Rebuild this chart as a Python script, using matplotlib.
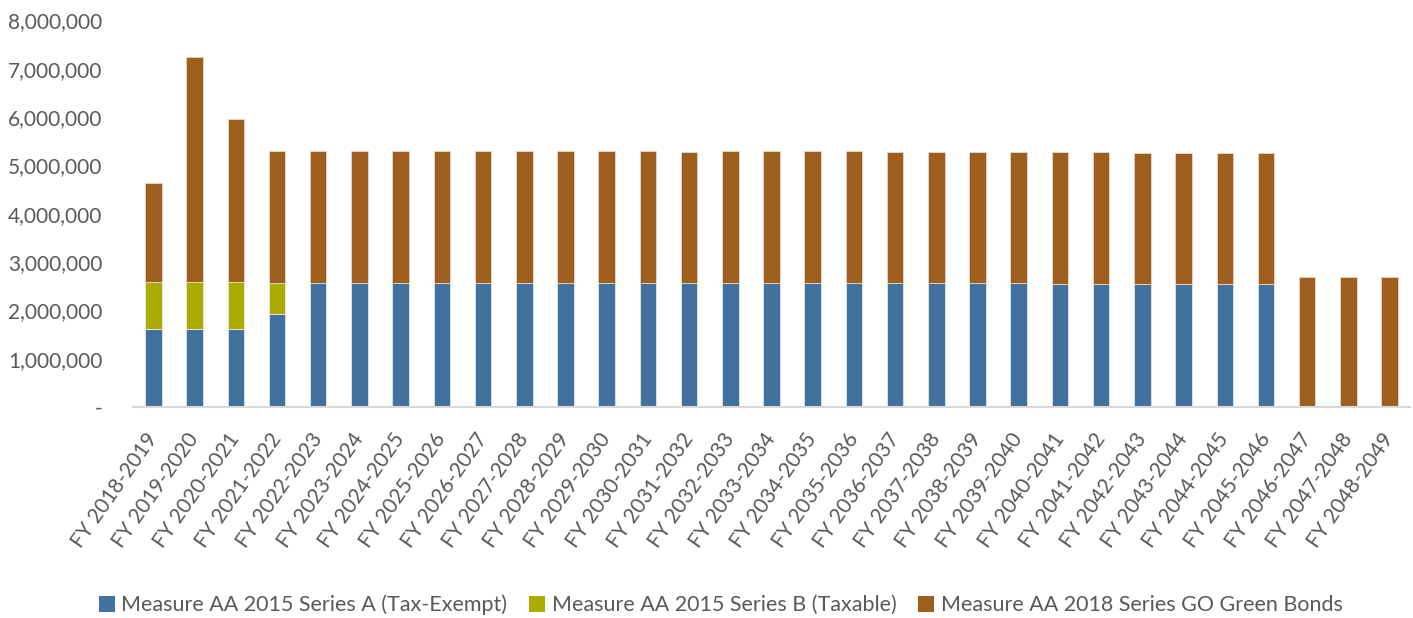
import matplotlib
matplotlib.use("Agg")
import matplotlib.pyplot as plt
from matplotlib.ticker import FuncFormatter

# fiscal years
years = ["FY %d-%d" % (y, y + 1) for y in range(2018, 2049)]

# Series A (Tax-Exempt)
series_a = [1615000, 1615000, 1615000, 1930000] + [2560000] * 18 + [2550000, 2550000, 2545000, 2545000, 2545000, 2545000] + [0, 0, 0]
# Series B (Taxable)
series_b = [965000, 965000, 965000, 637000] + [0] * 27
# totals
totals = [4640000, 7250000, 5960000, 5300000, 5300000, 5300000, 5290000, 5290000,
          5290000, 5290000, 5290000, 5290000, 5290000, 5280000, 5290000, 5290000,
          5290000, 5290000, 5280000, 5280000, 5270000, 5270000, 5270000, 5270000,
          5265000, 5260000, 5260000, 5260000, 2690000, 2690000, 2690000]
# GO Green Bonds = remainder
green_bonds = [t - a - b for t, a, b in zip(totals, series_a, series_b)]

labels = ["Measure AA 2015 Series A (Tax-Exempt)",
          "Measure AA 2015 Series B (Taxable)",
          "Measure AA 2018 Series GO Green Bonds"]
colors = ["#41719C", "#ABAB00", "#9E5E1E"]
txtcol = "#595959"

plt.rcParams['font.family'] = ['Lato', 'DejaVu Sans']

fig = plt.figure(figsize=(14.13, 6.18), dpi=100)
ax = fig.add_axes([0.094, 0.3414, 0.904, 0.6254])

x = range(len(years))
w = 0.4
ax.bar(x, series_a, w, color=colors[0], edgecolor="#dfe6ee", linewidth=0.6, label=labels[0])
ax.bar(x, series_b, w, bottom=series_a, color=colors[1], edgecolor="#eeeedd", linewidth=0.6, label=labels[1])
bottoms = [a + b for a, b in zip(series_a, series_b)]
ax.bar(x, green_bonds, w, bottom=bottoms, color=colors[2], edgecolor="#e8d8c8", linewidth=0.6, label=labels[2])

ax.set_xlim(-0.5, len(years) - 0.5)
ax.set_ylim(0, 8000000)
ax.set_yticks(range(0, 8000001, 1000000))
ax.yaxis.set_major_formatter(FuncFormatter(lambda v, p: "-" if v == 0 else "{:,.0f}".format(v)))
ax.set_xticks(list(x))
ax.set_xticklabels(years, rotation=55, ha="right", va="center", rotation_mode="anchor")

for s in ["top", "right", "left"]:
    ax.spines[s].set_visible(False)
ax.spines["bottom"].set_color("#d9d9d9")
ax.spines["bottom"].set_linewidth(1.5)
ax.tick_params(axis="both", length=0, colors=txtcol)
ax.tick_params(axis="y", pad=22, labelsize=15)
ax.tick_params(axis="x", pad=20, labelsize=15)

leg = ax.legend(loc="lower center", bbox_to_anchor=(0.51, -0.027), bbox_transform=fig.transFigure,
                ncol=3, frameon=False, fontsize=15.5, handlelength=0.75, handleheight=0.75,
                handletextpad=0.3, columnspacing=1.0)
for t in leg.get_texts():
    t.set_color(txtcol)
for h in leg.legend_handles:
    h.set_edgecolor("none")

fig.savefig("out.png", dpi=100)
